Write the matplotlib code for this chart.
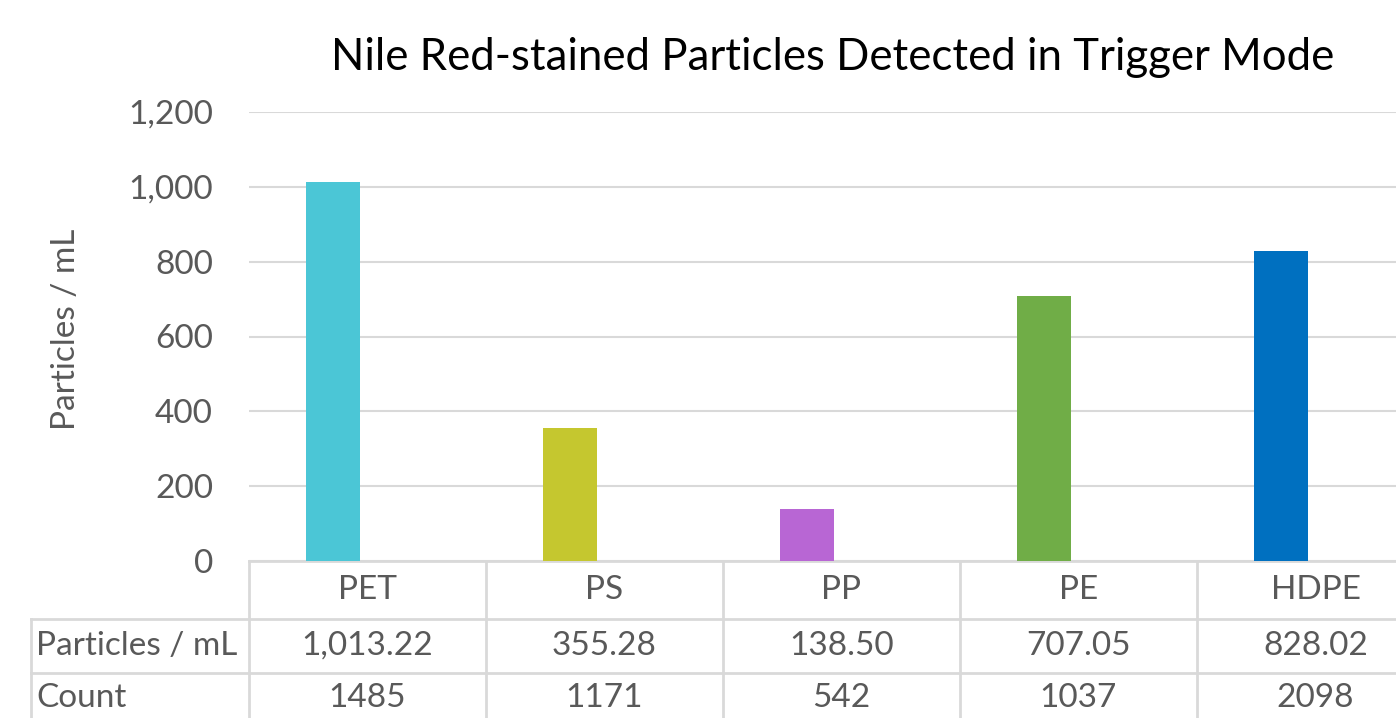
import matplotlib
matplotlib.use("Agg")
import matplotlib.pyplot as plt
import matplotlib.transforms as mtransforms

categories = ["PET", "PS", "PP", "PE", "HDPE"]
particles_per_ml = [1013.22, 355.28, 138.50, 707.05, 828.02]
counts = [1485, 1171, 542, 1037, 2098]
bar_colors = ["#4BC6D6", "#C5C72F", "#B866D4", "#70AD47", "#0070C0"]
row_labels = ["Particles / mL", "Count"]
yticks = [0, 200, 400, 600, 800, 1000, 1200]

plt.rcParams['font.family'] = ['Lato', 'DejaVu Sans']
TXT = "#595959"
GRID = "#D9D9D9"
FS = 24

W, H = 1396, 718
fig = plt.figure(figsize=(W / 100, H / 100), dpi=100)
ax_left, ax_right, ax_top, ax_bot = 249, 1434, 112, 561
ax = fig.add_axes([ax_left / W, 1 - ax_bot / H, (ax_right - ax_left) / W, (ax_bot - ax_top) / H])

n = len(categories)
ax.set_xlim(0, n)
ax.set_ylim(0, 1200)
xs = [i + 0.24 for i in range(n)]
ax.bar(xs, particles_per_ml, width=0.228, align='edge', color=bar_colors, zorder=3)

ax.set_yticks(yticks)
ax.set_yticklabels([f"{v:,}" for v in yticks], fontsize=FS, color=TXT)
ax.tick_params(axis='y', length=0, pad=26)
ax.set_xticks([])
for s in ax.spines.values():
    s.set_visible(False)
ax.grid(axis='y', color=GRID, linewidth=1.5, zorder=0)
ax.set_ylabel("Particles / mL", fontsize=FS, color=TXT, labelpad=0)
ax.yaxis.set_label_coords(-(ax_left - 81) / (ax_right - ax_left), (ax_bot - 329) / (ax_bot - ax_top))

fig.text(833 / W, 1 - 57 / H, "Nile Red-stained Particles Detected in Trigger Mode",
         ha='center', va='center', fontsize=31.5, color='black')

# Data table below the axis
trans = mtransforms.blended_transform_factory(ax.transData, ax.transAxes)
ph = ax_bot - ax_top
def fy(py):
    return (ax_bot - py) / ph
def fx(px):
    return (px - ax_left) / (237.0)

lkw = dict(color=GRID, linewidth=2, transform=trans, clip_on=False, zorder=1)
y0, y1, y2, y3 = fy(561), fy(619), fy(673), fy(730)
xl = fx(31)
ax.plot([0, n], [y0, y0], **lkw)
ax.plot([xl, n], [y1, y1], **lkw)
ax.plot([xl, n], [y2, y2], **lkw)
ax.plot([xl, xl], [y1, y3], **lkw)
for i in range(n + 1):
    ax.plot([i, i], [y0, y3], **lkw)

tkw = dict(transform=trans, ha='center', va='center', fontsize=FS, color=TXT, clip_on=False)
for i, c in enumerate(categories):
    ax.text(i + 0.5, fy(590), c, **tkw)
    ax.text(i + 0.5, fy(646), f"{particles_per_ml[i]:,.2f}", **tkw)
    ax.text(i + 0.5, fy(698), f"{counts[i]}", **tkw)
ax.text(fx(36), fy(646), row_labels[0], transform=trans, ha='left', va='center', fontsize=FS, color=TXT)
ax.text(fx(36), fy(698), row_labels[1], transform=trans, ha='left', va='center', fontsize=FS, color=TXT)

fig.savefig("out.png", dpi=100)
